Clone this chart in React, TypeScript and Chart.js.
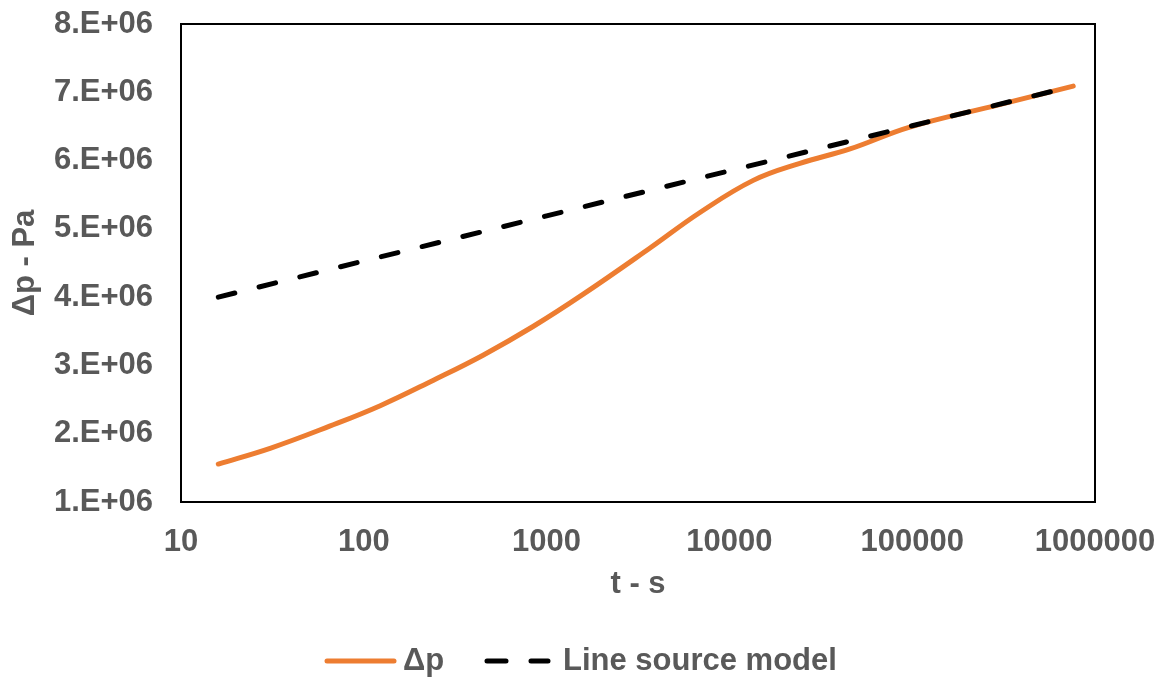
import React, { useEffect, useRef } from "react";
import { Chart, registerables } from "chart.js";

Chart.register(...registerables);

// Δp measured series
const dpTimes = [16, 31, 65, 123, 239, 449, 843, 1580, 3680, 6900, 13500, 24300, 45700, 97000, 300000, 760000];
const dpValues = [1.556e6, 1.79e6, 2.11e6, 2.41e6, 2.78e6, 3.15e6, 3.57e6, 4.04e6, 4.72e6, 5.24e6, 5.71e6, 5.96e6, 6.17e6, 6.49e6, 6.82e6, 7.09e6];

// Line source model series
const modelTimes = [16, 100, 1000, 10000, 100000, 760000];
const modelValues = [4.0e6, 4.53e6, 5.19e6, 5.85e6, 6.51e6, 7.09e6];

// Axis ticks
const xTicks = [10, 100, 1000, 10000, 100000, 1000000];
const yMin = 1e6;
const yMax = 8e6;
const yStep = 1e6;

const seriesLabels = ["Δp", "Line source model"];

const FONT = "'Liberation Sans', Arial, sans-serif";
const GREY = "#595959";
const ORANGE = "#ED7D31";

export default function App() {
  const ref = useRef<HTMLCanvasElement | null>(null);

  useEffect(() => {
    document.body.style.margin = "0";
    const canvas = ref.current;
    if (!canvas) return;

    const framePlugin = {
      id: "frame",
      beforeDatasetsDraw(chart: any) {
        const { ctx, chartArea } = chart;
        ctx.save();
        ctx.strokeStyle = "#000";
        ctx.lineWidth = 2;
        ctx.strokeRect(chartArea.left, chartArea.top, chartArea.right - chartArea.left, chartArea.bottom - chartArea.top);
        ctx.restore();
      },
    };

    const legendPlugin = {
      id: "customLegend",
      afterDraw(chart: any) {
        const { ctx } = chart;
        const y = 661;
        ctx.save();
        ctx.lineCap = "round";
        ctx.lineWidth = 5;
        // orange sample
        ctx.strokeStyle = ORANGE;
        ctx.beginPath();
        ctx.moveTo(327, y);
        ctx.lineTo(394, y);
        ctx.stroke();
        // dashed sample
        ctx.strokeStyle = "#000";
        ctx.beginPath();
        ctx.moveTo(487, y);
        ctx.lineTo(506, y);
        ctx.moveTo(531, y);
        ctx.lineTo(548, y);
        ctx.stroke();
        ctx.fillStyle = GREY;
        ctx.font = `bold 31px ${FONT}`;
        ctx.textBaseline = "middle";
        ctx.textAlign = "left";
        ctx.fillText(seriesLabels[0], 403, y);
        ctx.fillText(seriesLabels[1], 563, y);
        ctx.restore();
      },
    };

    const chart = new Chart(canvas, {
      type: "line",
      data: {
        datasets: [
          {
            label: seriesLabels[0],
            data: dpTimes.map((t, i) => ({ x: t, y: dpValues[i] })),
            borderColor: ORANGE,
            backgroundColor: ORANGE,
            borderWidth: 5,
            borderCapStyle: "round",
            borderJoinStyle: "round",
            pointRadius: 0,
            tension: 0.4,
            fill: false,
            order: 1,
          },
          {
            label: seriesLabels[1],
            data: modelTimes.map((t, i) => ({ x: t, y: modelValues[i] })),
            borderColor: "#000",
            backgroundColor: "#000",
            borderWidth: 5,
            borderDash: [17, 25],
            borderCapStyle: "round",
            pointRadius: 0,
            fill: false,
            order: 0,
          },
        ],
      },
      options: {
        animation: false,
        responsive: false,
        devicePixelRatio: 1,
        layout: { padding: { left: 0, top: 24, right: 69, bottom: 78 } },
        plugins: {
          legend: { display: false },
          tooltip: { enabled: false },
        },
        scales: {
          x: {
            type: "logarithmic",
            min: 10,
            max: 1000000,
            grid: { display: false, drawTicks: false },
            border: { display: false },
            afterBuildTicks: (scale: any) => {
              scale.ticks = xTicks.map((v) => ({ value: v }));
            },
            afterFit: (scale: any) => {
              scale.height = 101;
              scale.paddingLeft = 0;
              scale.paddingRight = 0;
            },
            ticks: {
              autoSkip: false,
              maxRotation: 0,
              padding: 22,
              color: GREY,
              font: { family: FONT, size: 31, weight: "bold" },
              callback: (v: any) => String(v),
            },
            title: {
              display: true,
              text: "t - s",
              color: GREY,
              padding: 0,
              font: { family: FONT, size: 31, weight: "bold" },
            },
          },
          y: {
            type: "linear",
            min: yMin,
            max: yMax,
            grid: { display: false, drawTicks: false },
            border: { display: false },
            afterFit: (scale: any) => {
              scale.width = 181;
              scale.paddingTop = 0;
              scale.paddingBottom = 0;
            },
            ticks: {
              stepSize: yStep,
              padding: 28,
              color: GREY,
              font: { family: FONT, size: 31, weight: "bold" },
              callback: (v: any) => `${Math.round(Number(v) / 1e6)}.E+06`,
            },
            title: {
              display: true,
              text: "Δp - Pa",
              color: GREY,
              padding: { top: 7, bottom: 0 },
              font: { family: FONT, size: 31, weight: "bold" },
            },
          },
        },
      },
      plugins: [framePlugin, legendPlugin],
    } as any);

    return () => {
      chart.destroy();
    };
  }, []);

  return (
    <div style={{ width: 1164, height: 681, position: "relative" }}>
      <canvas ref={ref} width={1164} height={681} style={{ display: "block", width: 1164, height: 681 }} />
    </div>
  );
}
